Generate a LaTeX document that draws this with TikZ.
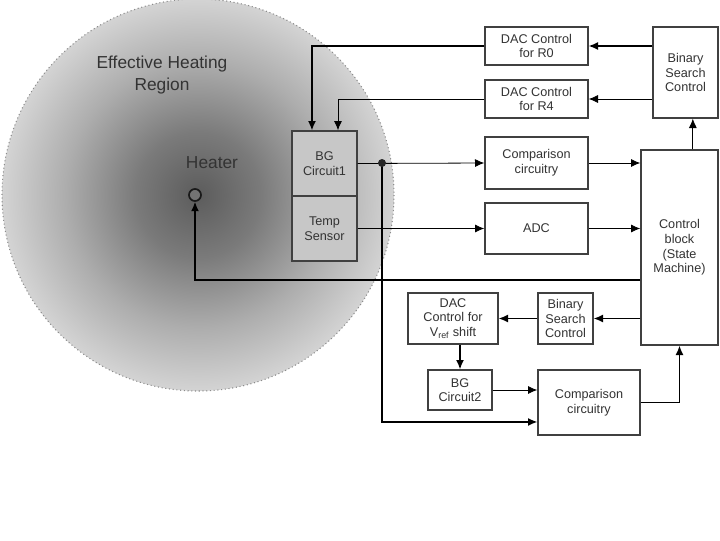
\documentclass[tikz,border=0pt]{standalone}
\usepackage{fontspec}
\setmainfont{Liberation Sans}
\usetikzlibrary{arrows.meta}
\pgfdeclareradialshading{heat}{\pgfpoint{0bp}{0bp}}{color(0bp)=(black!64); color(8bp)=(black!52); color(17bp)=(black!32); color(25bp)=(black!17); color(50bp)=(black!17)}
\tikzset{
    blk/.style={draw=black!75, line width=1pt, fill=white, align=center, text=black!80, font=\fontsize{9.5}{11}\selectfont, inner sep=1pt},
    bgblk/.style={blk, fill=black!22},
    wire/.style={->, line width=1pt},
    thinwire/.style={->, line width=.6pt}
}
\begin{document}
\begin{tikzpicture}[>={Latex[length=7pt,width=6pt]}, x=.75pt, y=-.75pt]
\useasboundingbox (0,0) rectangle (720,540);

\shade[shading=heat] (198,195) circle (196);
\draw[black!45, dotted, line width=.8pt] (198,195) circle (196);

\node (region) at (162,75) [align=center, text=black!80, font=\fontsize{13}{16.5}\selectfont]{Effective Heating\\Region};
\node (heatlbl) at (212,163) [text=black!80, font=\fontsize{13}{15}\selectfont]{Heater};
\node (heat) at (195,195) [circle, draw=black!90, fill=black!55, line width=1.3pt, minimum size=9pt, inner sep=0pt]{};

\node (bg1) at (324.5,163.5) [bgblk, minimum width=48.75pt, minimum height=48.75pt]{BG\\Circuit1};
\node (temp) at (324.5,228.5) [bgblk, minimum width=48.75pt, minimum height=48.75pt]{Temp\\Sensor};

\node (dacA) at (536.5,46) [blk, minimum width=77.25pt, minimum height=28.5pt]{DAC Control\\for R0};
\node (dacB) at (536.5,99) [blk, minimum width=77.25pt, minimum height=28.5pt]{DAC Control\\for R4};
\node (bscA) at (685.5,72.5) [blk, minimum width=48.75pt, minimum height=68.25pt]{Binary\\Search\\Control};
\node (cmpA) at (536.5,163) [blk, minimum width=77.25pt, minimum height=39pt]{Comparison\\circuitry};
\node (adc) at (536.5,228.5) [blk, minimum width=77.25pt, minimum height=38.25pt]{ADC};
\node (ctrl) at (679.5,247.5) [blk, minimum width=57.75pt, minimum height=146.25pt]{Control\\block\\(State\\Machine)};

\node (dacC) at (453,318.5) [blk, minimum width=67.5pt, minimum height=38.25pt]{DAC\\Control for\\V\textsubscript{ref} shift};
\node (bscB) at (565.5,318.5) [blk, minimum width=41.25pt, minimum height=38.25pt]{Binary\\Search\\Control};
\node (bg2) at (460,390) [blk, minimum width=48pt, minimum height=30pt]{BG\\Circuit2};
\node (cmpB) at (589,402.5) [blk, minimum width=76.5pt, minimum height=48.75pt]{Comparison\\circuitry};

\coordinate (j) at (382,163);

\draw[wire] (bscA.west |- dacA.east)--(dacA.east);
\draw[thinwire] (bscA.west |- dacB.east)--(dacB.east);
\draw[wire] (dacA.west) -| ([xshift=-9.4pt]bg1.north);
\draw[thinwire] (dacB.west) -| ([xshift=10.1pt]bg1.north);
\draw[thinwire] ([xshift=5.5pt]bscA.south |- ctrl.north)--([xshift=5.5pt]bscA.south);

\draw[thinwire] (bg1.east)--(cmpA.west);
\draw[thinwire] (cmpA.east)--(cmpA.east -| ctrl.west);
\draw[thinwire] (temp.east)--(adc.west);
\draw[thinwire] (adc.east)--(adc.east -| ctrl.west);
\draw[wire] ([yshift=-24.4pt]ctrl.west) -| (heat.south);

\draw[wire] (ctrl.west |- bscB.east)--(bscB.east);
\draw[wire] (bscB.west)--(dacC.east);
\draw[wire] (dacC.south -| bg2.north)--(bg2.north);
\draw[thinwire] (bg2.east)--(bg2.east -| cmpB.west);
\draw[wire] (cmpB.east) -| (ctrl.south);
\draw[wire] (j) |- ([yshift=-14.6pt]cmpB.west);
\fill[black!85] (j) circle (3pt);

\end{tikzpicture}
\end{document}
